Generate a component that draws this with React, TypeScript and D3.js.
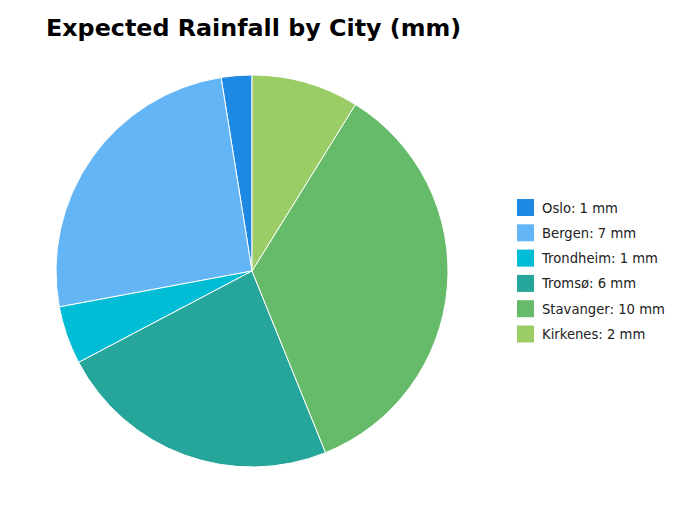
import React from 'react'
import { pie, arc } from 'd3'

const cities = ['Oslo', 'Bergen', 'Trondheim', 'Tromsø', 'Stavanger', 'Kirkenes']
const rainfall = [0.69, 6.95, 1.31, 6.4, 9.58, 2.42]
const colors = ['#1E88E5', '#64B5F6', '#00BCD4', '#26A69A', '#66BB6A', '#9CCC65']

const WIDTH = 680
const HEIGHT = 510
const CENTER = { x: 252, y: 271 }
const RADIUS = 196

const App: React.FC = () => {
  const slices = pie<number>()
    .sort(null)
    .startAngle(0)
    .endAngle(-2 * Math.PI)(rainfall)

  const a = arc<any>().innerRadius(0).outerRadius(RADIUS)

  return (
    <svg
      width={WIDTH}
      height={HEIGHT}
      style={{ position: 'absolute', left: 0, top: 0, fontFamily: 'DejaVu Sans' }}
    >
      <rect width={WIDTH} height={HEIGHT} fill="#fff" />
      <text x={46} y={36} fontSize={23.8} fontWeight="bold" fill="#000">
        Expected Rainfall by City (mm)
      </text>
      <g transform={`translate(${CENTER.x}, ${CENTER.y})`}>
        {slices.map((s, i) => (
          <path key={cities[i]} d={a(s) || ''} fill={colors[i]} stroke="#fff" strokeWidth={1} />
        ))}
      </g>
      <g className="legend" transform="translate(517, 199)">
        {cities.map((c, i) => (
          <g key={c} transform={`translate(0, ${i * 25.3})`}>
            <rect width={17} height={17} fill={colors[i]} />
            <text x={25} y={13.5} fontSize={13.2} fill="#222">
              {`${c}: ${Math.round(rainfall[i])} mm`}
            </text>
          </g>
        ))}
      </g>
    </svg>
  )
}

export default App
